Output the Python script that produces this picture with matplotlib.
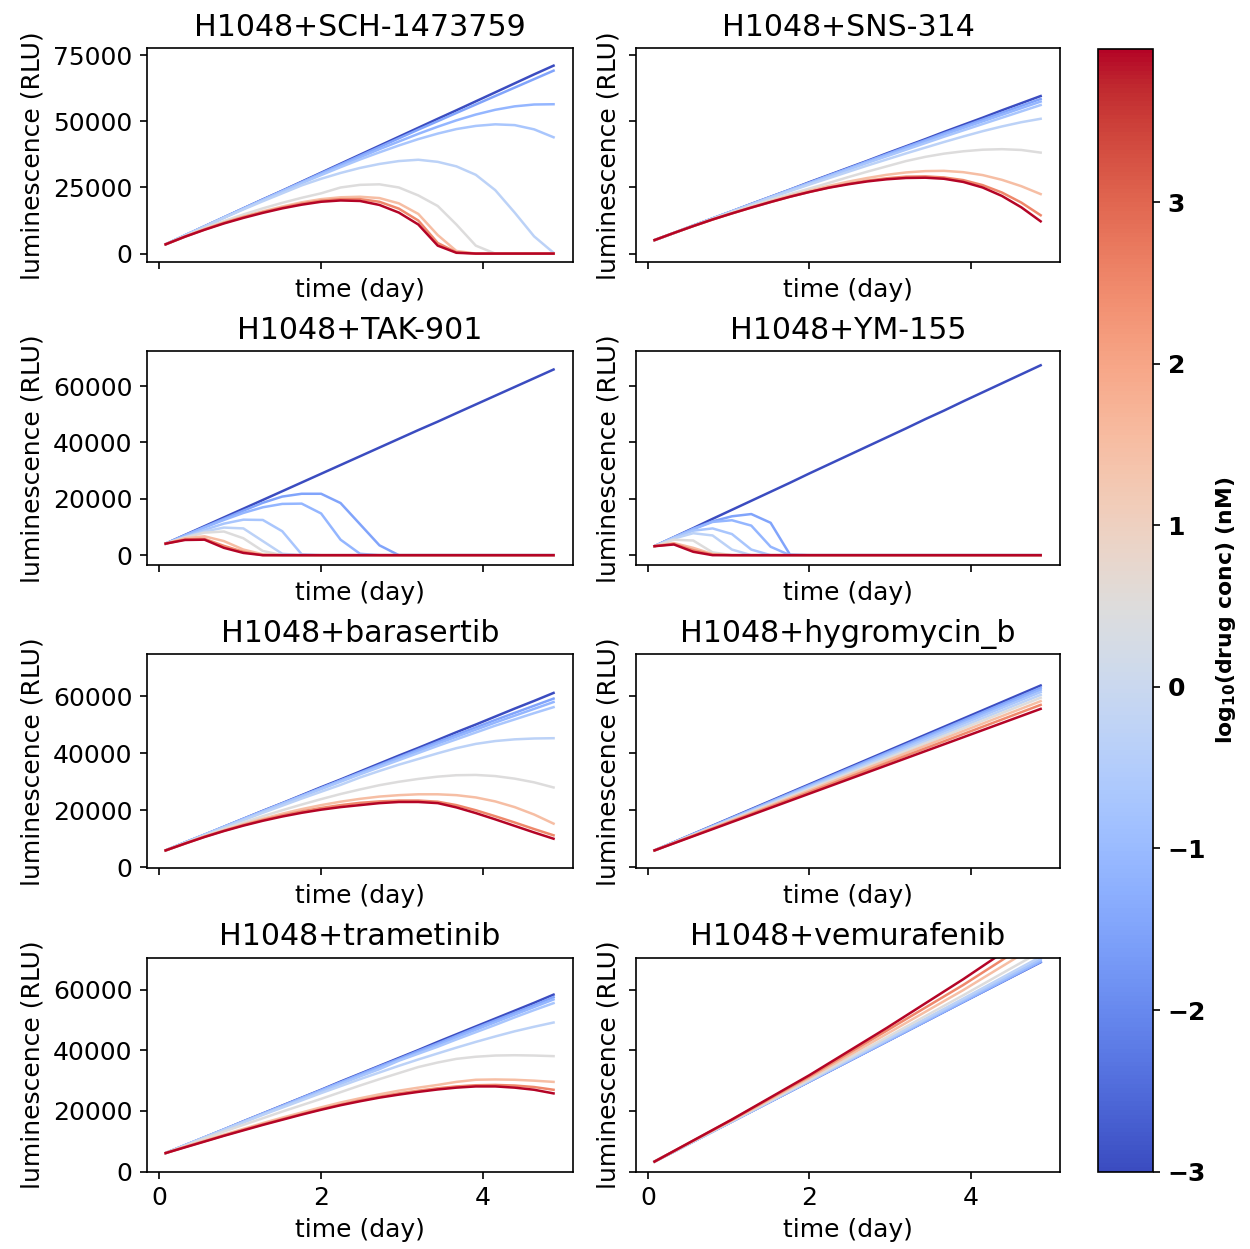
import matplotlib
matplotlib.use("Agg")
import matplotlib.pyplot as plt
import numpy as np

plt.rcParams["font.size"] = 12

# time points (day) and drug concentrations (log10 nM)
TIME = [0.08, 0.32, 0.56, 0.80, 1.04, 1.28, 1.52, 1.76, 2.00, 2.24, 2.48,
        2.72, 2.96, 3.20, 3.44, 3.67, 3.91, 4.15, 4.39, 4.63, 4.87]
TIME_HYGRO = [0.08, 2.48, 4.87]
TIME_VEMU = [0.08, 1.04, 2.00, 2.96, 3.91, 4.87]
LOG_CONC = [-3.0, -1.5, -1.1, -0.7, -0.3, 0.5, 1.5, 2.5, 3.95]

# luminescence in thousands of RLU, one row per concentration
sch = [
    [3.5, 6.9, 10.3, 13.7, 17.1, 20.5, 23.8, 27.2, 30.6, 34.0, 37.4, 40.8, 44.2, 47.6, 51.0, 54.2, 57.6, 61.0, 64.4, 67.8, 71.1],
    [3.5, 6.9, 10.3, 13.7, 17.1, 20.4, 23.7, 27.0, 30.4, 33.7, 37.0, 40.3, 43.6, 46.9, 50.1, 53.2, 56.4, 59.6, 62.8, 66.0, 69.2],
    [3.5, 6.9, 10.3, 13.7, 17.0, 20.3, 23.6, 26.9, 30.1, 33.3, 36.4, 39.5, 42.4, 45.3, 48.0, 50.4, 52.6, 54.4, 55.7, 56.4, 56.5],
    [3.5, 6.9, 10.2, 13.6, 16.9, 20.2, 23.4, 26.6, 29.7, 32.7, 35.6, 38.3, 40.9, 43.3, 45.4, 47.1, 48.3, 48.9, 48.6, 47.0, 44.0],
    [3.5, 6.9, 10.2, 13.5, 16.7, 19.8, 22.8, 25.8, 28.3, 30.5, 32.4, 33.9, 35.0, 35.5, 34.7, 33.0, 29.8, 24.0, 15.5, 6.5, 0.3],
    [3.5, 6.6, 9.6, 12.3, 14.8, 17.1, 19.2, 21.1, 22.8, 25.0, 26.0, 26.2, 25.0, 22.0, 18.0, 11.0, 3.0, 0, 0, 0, 0],
    [3.5, 6.5, 9.3, 11.8, 14.0, 16.0, 17.8, 19.4, 20.6, 21.3, 21.5, 21.0, 19.0, 15.0, 7.0, 1.0, 0, 0, 0, 0, 0],
    [3.5, 6.4, 9.1, 11.6, 13.8, 15.7, 17.4, 18.9, 20.0, 20.6, 20.6, 19.6, 17.0, 12.5, 4.0, 0.5, 0, 0, 0, 0, 0],
    [3.5, 6.4, 9.0, 11.4, 13.5, 15.4, 17.1, 18.5, 19.6, 20.1, 19.9, 18.4, 15.5, 11.0, 3.0, 0.3, 0, 0, 0, 0, 0],
]
sns314 = [
    [5.1, 7.8, 10.6, 13.3, 16.0, 18.8, 21.5, 24.2, 27.0, 29.7, 32.4, 35.1, 37.9, 40.6, 43.3, 46.0, 48.7, 51.4, 54.2, 56.9, 59.6],
    [5.1, 7.8, 10.6, 13.3, 16.0, 18.7, 21.4, 24.1, 26.8, 29.5, 32.2, 34.9, 37.6, 40.3, 42.9, 45.5, 48.1, 50.7, 53.3, 55.9, 58.5],
    [5.1, 7.8, 10.6, 13.3, 16.0, 18.7, 21.4, 24.1, 26.7, 29.4, 32.0, 34.7, 37.3, 39.9, 42.5, 45.0, 47.5, 50.0, 52.5, 55.0, 57.5],
    [5.1, 7.8, 10.5, 13.2, 15.9, 18.6, 21.3, 23.9, 26.5, 29.1, 31.7, 34.3, 36.8, 39.3, 41.8, 44.2, 46.6, 49.0, 51.4, 53.8, 56.2],
    [5.1, 7.8, 10.5, 13.2, 15.9, 18.5, 21.1, 23.6, 26.1, 28.5, 30.9, 33.3, 35.6, 37.9, 40.1, 42.2, 44.3, 46.3, 48.1, 49.7, 51.0],
    [5.1, 7.8, 10.5, 13.1, 15.6, 18.0, 20.3, 22.5, 24.6, 26.7, 28.9, 31.0, 33.0, 35.0, 36.6, 37.8, 38.7, 39.3, 39.5, 39.2, 38.2],
    [5.1, 7.8, 10.4, 12.9, 15.3, 17.6, 19.8, 21.9, 23.8, 25.6, 27.2, 28.6, 29.8, 30.7, 31.2, 31.3, 30.8, 29.7, 27.9, 25.5, 22.5],
    [5.1, 7.8, 10.4, 12.9, 15.2, 17.4, 19.5, 21.5, 23.3, 25.0, 26.4, 27.6, 28.5, 29.1, 29.2, 28.8, 27.8, 25.9, 23.1, 19.3, 14.5],
    [5.1, 7.8, 10.4, 12.9, 15.2, 17.4, 19.5, 21.5, 23.3, 24.9, 26.2, 27.3, 28.1, 28.6, 28.7, 28.3, 27.1, 25.0, 21.8, 17.5, 12.2],
]
tak901 = [
    [4.1, 7.2, 10.3, 13.4, 16.5, 19.6, 22.7, 25.8, 28.9, 32.0, 35.1, 38.2, 41.3, 44.4, 47.4, 50.4, 53.5, 56.6, 59.7, 62.8, 65.9],
    [4.1, 7.1, 10.0, 12.9, 15.8, 18.6, 20.8, 21.8, 21.8, 18.5, 11.0, 3.5, 0, 0, 0, 0, 0, 0, 0, 0, 0],
    [4.1, 7.0, 9.8, 12.5, 15.0, 17.0, 18.2, 18.3, 14.8, 5.5, 0.5, 0, 0, 0, 0, 0, 0, 0, 0, 0, 0],
    [4.1, 6.6, 9.0, 11.2, 12.6, 12.5, 8.5, 0.3, 0, 0, 0, 0, 0, 0, 0, 0, 0, 0, 0, 0, 0],
    [4.1, 6.4, 8.4, 9.8, 9.5, 5.0, 0.5, 0, 0, 0, 0, 0, 0, 0, 0, 0, 0, 0, 0, 0, 0],
    [4.1, 6.3, 8.0, 8.4, 6.0, 1.5, 0, 0, 0, 0, 0, 0, 0, 0, 0, 0, 0, 0, 0, 0, 0],
    [4.1, 6.0, 6.7, 5.0, 2.0, 0.3, 0, 0, 0, 0, 0, 0, 0, 0, 0, 0, 0, 0, 0, 0, 0],
    [4.1, 5.6, 5.8, 3.3, 1.2, 0, 0, 0, 0, 0, 0, 0, 0, 0, 0, 0, 0, 0, 0, 0, 0],
    [4.1, 5.4, 5.5, 2.6, 0.8, 0, 0, 0, 0, 0, 0, 0, 0, 0, 0, 0, 0, 0, 0, 0, 0],
]
ym155 = [
    [3.2, 6.4, 9.6, 12.9, 16.1, 19.3, 22.5, 25.7, 29.0, 32.2, 35.4, 38.6, 41.8, 45.0, 48.3, 51.3, 54.6, 57.8, 61.0, 64.2, 67.4],
    [3.2, 6.3, 9.4, 12.0, 13.8, 14.6, 11.5, 0.2, 0, 0, 0, 0, 0, 0, 0, 0, 0, 0, 0, 0, 0],
    [3.2, 6.3, 9.2, 11.8, 12.4, 10.5, 3.0, 0, 0, 0, 0, 0, 0, 0, 0, 0, 0, 0, 0, 0, 0],
    [3.2, 6.2, 8.7, 9.5, 7.5, 2.0, 0, 0, 0, 0, 0, 0, 0, 0, 0, 0, 0, 0, 0, 0, 0],
    [3.2, 5.9, 7.8, 7.0, 2.0, 0, 0, 0, 0, 0, 0, 0, 0, 0, 0, 0, 0, 0, 0, 0, 0],
    [3.2, 5.5, 5.2, 1.0, 0, 0, 0, 0, 0, 0, 0, 0, 0, 0, 0, 0, 0, 0, 0, 0, 0],
    [3.2, 4.3, 2.6, 0.4, 0, 0, 0, 0, 0, 0, 0, 0, 0, 0, 0, 0, 0, 0, 0, 0, 0],
    [3.2, 4.0, 1.8, 0.2, 0, 0, 0, 0, 0, 0, 0, 0, 0, 0, 0, 0, 0, 0, 0, 0, 0],
    [3.2, 3.8, 1.2, 0, 0, 0, 0, 0, 0, 0, 0, 0, 0, 0, 0, 0, 0, 0, 0, 0, 0],
]
barasertib = [
    [5.9, 8.7, 11.4, 14.2, 17.0, 19.8, 22.5, 25.3, 28.1, 30.8, 33.6, 36.4, 39.2, 41.9, 44.7, 47.4, 50.1, 52.9, 55.7, 58.4, 61.2],
    [5.9, 8.7, 11.4, 14.2, 17.0, 19.7, 22.4, 25.1, 27.8, 30.5, 33.2, 35.9, 38.6, 41.3, 44.0, 46.5, 49.1, 51.7, 54.2, 56.7, 59.2],
    [5.9, 8.7, 11.4, 14.2, 16.9, 19.6, 22.3, 25.0, 27.7, 30.4, 33.0, 35.6, 38.2, 40.8, 43.4, 45.8, 48.3, 50.8, 53.2, 55.6, 58.0],
    [5.9, 8.7, 11.4, 14.1, 16.8, 19.5, 22.2, 24.8, 27.4, 30.0, 32.6, 35.1, 37.6, 40.1, 42.6, 44.9, 47.3, 49.7, 51.9, 54.1, 56.2],
    [5.9, 8.6, 11.3, 13.9, 16.5, 19.1, 21.6, 24.1, 26.5, 28.9, 31.5, 33.8, 36.0, 38.0, 40.0, 41.8, 43.3, 44.3, 44.9, 45.2, 45.3],
    [5.9, 8.5, 11.0, 13.4, 15.7, 17.9, 20.0, 22.0, 23.9, 25.7, 27.3, 28.8, 30.0, 31.0, 31.8, 32.3, 32.4, 32.0, 31.1, 29.8, 28.0],
    [5.9, 8.4, 10.8, 13.0, 15.1, 17.0, 18.8, 20.4, 21.8, 23.0, 24.0, 24.8, 25.3, 25.6, 25.6, 25.3, 24.5, 23.1, 21.1, 18.5, 15.3],
    [5.9, 8.3, 10.7, 12.8, 14.8, 16.6, 18.2, 19.6, 20.8, 21.8, 22.6, 23.1, 23.4, 23.4, 23.0, 21.8, 20.0, 17.9, 15.7, 13.4, 11.2],
    [5.9, 8.3, 10.6, 12.7, 14.6, 16.3, 17.8, 19.1, 20.2, 21.1, 21.8, 22.5, 22.9, 22.9, 22.5, 21.0, 19.0, 16.8, 14.5, 12.2, 10.0],
]
hygromycin_b = [
    [5.9, 34.9, 63.8],
    [5.9, 34.5, 63.0],
    [5.9, 34.1, 62.3],
    [5.9, 33.8, 61.5],
    [5.9, 33.3, 60.5],
    [5.9, 32.8, 59.5],
    [5.9, 32.2, 58.3],
    [5.9, 31.5, 57.0],
    [5.9, 30.8, 55.6],
]
trametinib = [
    [6.1, 8.7, 11.3, 13.9, 16.6, 19.2, 21.8, 24.4, 27.0, 29.7, 32.3, 34.9, 37.5, 40.1, 42.8, 45.3, 47.9, 50.5, 53.1, 55.7, 58.4],
    [6.1, 8.7, 11.3, 13.9, 16.5, 19.1, 21.7, 24.3, 26.9, 29.5, 32.1, 34.7, 37.2, 39.8, 42.3, 44.8, 47.4, 49.9, 52.4, 54.9, 57.6],
    [6.1, 8.7, 11.3, 13.9, 16.5, 19.1, 21.6, 24.2, 26.7, 29.3, 31.8, 34.3, 36.8, 39.3, 41.8, 44.3, 46.8, 49.3, 51.8, 54.3, 56.8],
    [6.1, 8.7, 11.3, 13.8, 16.4, 18.9, 21.4, 23.9, 26.4, 28.9, 31.4, 33.8, 36.6, 38.9, 41.2, 43.6, 46.0, 48.4, 50.9, 53.3, 55.6],
    [6.1, 8.7, 11.2, 13.7, 16.2, 18.7, 21.1, 23.5, 25.9, 28.2, 30.5, 32.7, 34.9, 37.0, 39.0, 40.9, 42.8, 44.6, 46.3, 47.8, 49.2],
    [6.1, 8.5, 10.9, 13.2, 15.4, 17.6, 19.8, 21.9, 24.0, 26.2, 28.4, 30.5, 32.5, 34.5, 36.0, 37.2, 37.9, 38.3, 38.4, 38.3, 38.1],
    [6.1, 8.2, 10.2, 12.2, 14.1, 16.0, 17.8, 19.5, 21.2, 22.8, 24.2, 25.5, 26.7, 27.7, 28.6, 29.6, 30.3, 30.4, 30.3, 30.0, 29.6],
    [6.1, 8.1, 10.0, 11.9, 13.8, 15.6, 17.3, 19.0, 20.6, 22.1, 23.5, 24.7, 25.8, 26.7, 27.5, 28.1, 28.5, 28.6, 28.4, 27.9, 27.0],
    [6.1, 8.0, 9.9, 11.8, 13.6, 15.4, 17.1, 18.8, 20.4, 21.9, 23.2, 24.4, 25.4, 26.3, 27.1, 27.7, 28.1, 28.1, 27.7, 27.0, 25.8],
]
vemurafenib = [
    [3.3, 16.5, 29.7, 42.9, 56.0, 69.1],
    [3.3, 16.5, 29.7, 42.9, 56.0, 69.2],
    [3.3, 16.5, 29.8, 43.0, 56.2, 69.5],
    [3.3, 16.5, 29.9, 43.3, 56.6, 70.1],
    [3.3, 16.6, 30.0, 43.6, 57.1, 70.9],
    [3.3, 16.7, 30.3, 44.3, 58.2, 72.6],
    [3.3, 16.9, 30.9, 45.4, 59.9, 75.5],
    [3.3, 17.1, 31.4, 46.5, 61.6, 78.0],
    [3.3, 17.2, 31.8, 47.4, 63.5, 80.7],
]

TITLES = ["H1048+SCH-1473759", "H1048+SNS-314", "H1048+TAK-901", "H1048+YM-155",
          "H1048+barasertib", "H1048+hygromycin_b", "H1048+trametinib", "H1048+vemurafenib"]
PANELS = [(TIME, sch), (TIME, sns314), (TIME, tak901), (TIME, ym155),
          (TIME, barasertib), (TIME_HYGRO, hygromycin_b), (TIME, trametinib), (TIME_VEMU, vemurafenib)]
YLIMS = [(-3200, 77600), (-3500, 72300), (-300, 74700), (0, 70500)]

cmap = plt.get_cmap("coolwarm")
norm = plt.Normalize(min(LOG_CONC), max(LOG_CONC))

fig = plt.figure(figsize=(1250 / 150, 1249 / 150), dpi=150)
lefts = [0.1176, 0.5088]
widths = [0.3408, 0.3392]
bottoms = [0.7902, 0.5476, 0.305, 0.062]
h = 0.171

axes = []
first = None
for r in range(4):
    row_first = None
    for c in range(2):
        ax = fig.add_axes([lefts[c], bottoms[r], widths[c], h], sharex=first, sharey=row_first)
        if first is None:
            first = ax
        if row_first is None:
            row_first = ax
        axes.append(ax)

for i, ax in enumerate(axes):
    times, curves = PANELS[i]
    for conc, vals in zip(LOG_CONC, curves):
        ax.plot(times, np.array(vals) * 1000, color=cmap(norm(conc)), lw=1.2)
    ax.set_title(TITLES[i], fontsize=14.4)
    ax.set_xlabel("time (day)")
    ax.set_ylabel("luminescence (RLU)")
    ax.set_ylim(*YLIMS[i // 2])
    if i < 6:
        ax.tick_params(labelbottom=False)
    if i % 2 == 1:
        ax.tick_params(labelleft=False)

axes[0].set_xlim(-0.15, 5.11)
axes[0].set_xticks([0, 2, 4])
axes[0].set_yticks([0, 25000, 50000, 75000])
for k in (2, 4, 6):
    axes[k].set_yticks([0, 20000, 40000, 60000])

cax = fig.add_axes([0.8784, 0.062, 0.044, 0.899])
sm = matplotlib.cm.ScalarMappable(norm=norm, cmap=cmap)
cb = fig.colorbar(sm, cax=cax)
cb.set_ticks([-3, -2, -1, 0, 1, 2, 3])
for lab in cax.get_yticklabels():
    lab.set_fontweight("bold")
cb.set_label(r"log$_\mathbf{10}$(drug conc) (nM)", fontweight="bold", fontsize=10.5)

fig.savefig("out.png", dpi=150)
